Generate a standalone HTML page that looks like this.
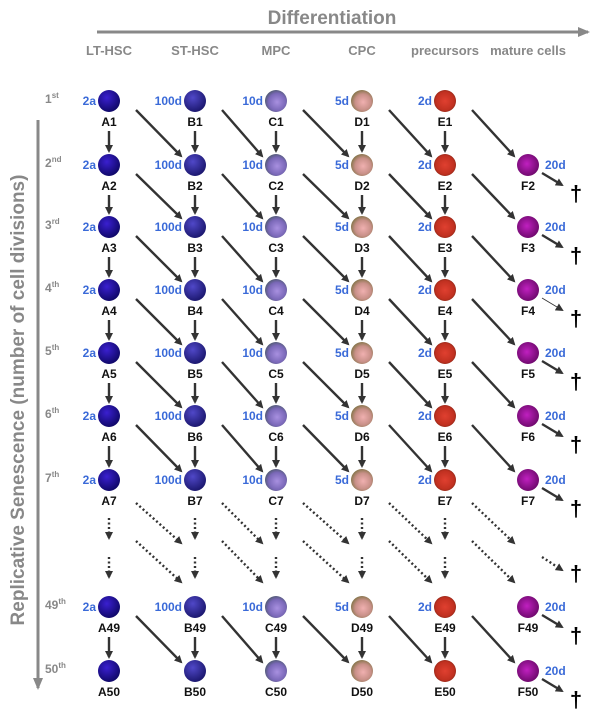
<!DOCTYPE html>
<html><head><meta charset="utf-8">
<style>
body{margin:0;background:#fff;}
svg{display:block;font-family:"Liberation Sans",Arial,sans-serif;}
</style></head>
<body>
<svg id="chart" width="605" height="709" viewBox="0 0 605 709" xmlns="http://www.w3.org/2000/svg">
<defs>
<marker id="ah" markerWidth="8" markerHeight="8" refX="6" refY="4" orient="auto" markerUnits="userSpaceOnUse"><path d="M0,0 L8,4 L0,8 z" fill="#333"/></marker>
<marker id="ahg" markerWidth="12" markerHeight="10" refX="10" refY="5" orient="auto" markerUnits="userSpaceOnUse"><path d="M0,0 L12,5 L0,10 z" fill="#888"/></marker>
<radialGradient id="gA" cx="40%" cy="35%" r="65%"><stop offset="0" stop-color="#3a20d0"/><stop offset="1" stop-color="#10086a"/></radialGradient>
<radialGradient id="gB" cx="40%" cy="35%" r="65%"><stop offset="0" stop-color="#5048c8"/><stop offset="1" stop-color="#1c1870"/></radialGradient>
<radialGradient id="gC" cx="55%" cy="55%" r="60%"><stop offset="0" stop-color="#a890e0"/><stop offset="0.65" stop-color="#7a68b8"/><stop offset="1" stop-color="#4a5868"/></radialGradient>
<radialGradient id="gD" cx="55%" cy="55%" r="60%"><stop offset="0" stop-color="#f0b0b0"/><stop offset="0.6" stop-color="#c89088"/><stop offset="1" stop-color="#7a7040"/></radialGradient>
<radialGradient id="gE" cx="50%" cy="50%" r="60%"><stop offset="0" stop-color="#e04030"/><stop offset="0.7" stop-color="#c03020"/><stop offset="1" stop-color="#6a2010"/></radialGradient>
<radialGradient id="gF" cx="45%" cy="45%" r="60%"><stop offset="0" stop-color="#c020c0"/><stop offset="1" stop-color="#6a0868"/></radialGradient>
</defs>
<text x="332" y="24" text-anchor="middle" font-size="19" font-weight="bold" fill="#888">Differentiation</text>
<line x1="97" y1="32" x2="588" y2="32" stroke="#888" stroke-width="3" marker-end="url(#ahg)"/>
<line x1="38" y1="120" x2="38" y2="688" stroke="#888" stroke-width="3" marker-end="url(#ahg)"/>
<text transform="translate(24,400) rotate(-90)" text-anchor="middle" font-size="19" font-weight="bold" fill="#888">Replicative Senescence (number of cell divisions)</text>
<g id="g"></g>
</svg>
<script>
const columns=["LT-HSC","ST-HSC","MPC","CPC","precursors","mature cells"];
const letters=["A","B","C","D","E","F"];
const times=["2a","100d","10d","5d","2d","20d"];
const rows=[1,2,3,4,5,6,7,49,50];
const suffix=["st","nd","rd","th","th","th","th","th","th"];
const colX=[109,195,276,362,445,528];
const rowY=[101,165,227,290,353,416,480,607,671];
const ns="http://www.w3.org/2000/svg";
const g=document.getElementById("g");
function mk(tag,attrs,parent){const e=document.createElementNS(ns,tag);for(const k in attrs)e.setAttribute(k,attrs[k]);(parent||g).appendChild(e);return e;}
function arrow(x1,y1,x2,y2,dash,w){const l=mk("line",{x1,y1,x2,y2,stroke:"#333","stroke-width":w||2.4,"marker-end":"url(#ah)"});if(dash)l.setAttribute("stroke-dasharray","2,2.5");

return l;}
columns.forEach((c,i)=>{const t=mk("text",{x:colX[i],y:55,"text-anchor":"middle","font-size":13,"font-weight":"bold",fill:"#888"});t.textContent=c;

});
rows.forEach((r,j)=>{const y=rowY[j];
 const t=mk("text",{x:45,y:y+2,"font-size":12,"font-weight":"bold",fill:"#888"});t.textContent=r;
 const s=mk("tspan",{dy:-5,"font-size":8},t);s.textContent=suffix[j];
 
 
 letters.forEach((L,i)=>{
  if(i===5&&j===0)return;
  const x=colX[i];
  const c=mk("circle",{cx:x,cy:y,r:11,fill:"url(#g"+L+")"});
  
  
  const lb=mk("text",{x:x,y:y+25,"text-anchor":"middle","font-size":12,"font-weight":"bold",fill:"#111"});lb.textContent=L+r;
  
  
  if(!(j===8&&i<5)){
   const tt=mk("text",{x:i===5?x+17:x-13,y:y+4,"text-anchor":i===5?"start":"end","font-size":12,"font-weight":"bold",fill:"#3a6ad8"});tt.textContent=times[i];
   
   
  }
  if(i===5){arrow(x+14,y+8,x+34,y+20,false,j===3?0.8:2.4);
   const d=mk("text",{x:x+48,y:y+36,"text-anchor":"middle","font-size":22,"font-weight":"bold",fill:"#000"});d.textContent="†";
   
   }
  if(j<rows.length-1){
   const ny=rowY[j+1];
   if(j===6){
    if(i<5)arrow(x,y+38,x,y+58,true);
    if(i<5)arrow(x,y+77,x,y+97,true);
    if(i<5){arrow(x+27,y+23,colX[i+1]-14,y+63,true);arrow(x+27,y+61,colX[i+1]-14,y+102,true);}
   }else{
    if(i<5)arrow(x,y+30,x,ny-14);
    if(i<5)arrow(x+27,y+9,colX[i+1]-14,ny-9);
   }
  }
 });
});
arrow(542,557,562,570,true);
const d2=mk("text",{x:576,y:581,"text-anchor":"middle","font-size":22,"font-weight":"bold",fill:"#000"});d2.textContent="†";


</script>
</body></html>
